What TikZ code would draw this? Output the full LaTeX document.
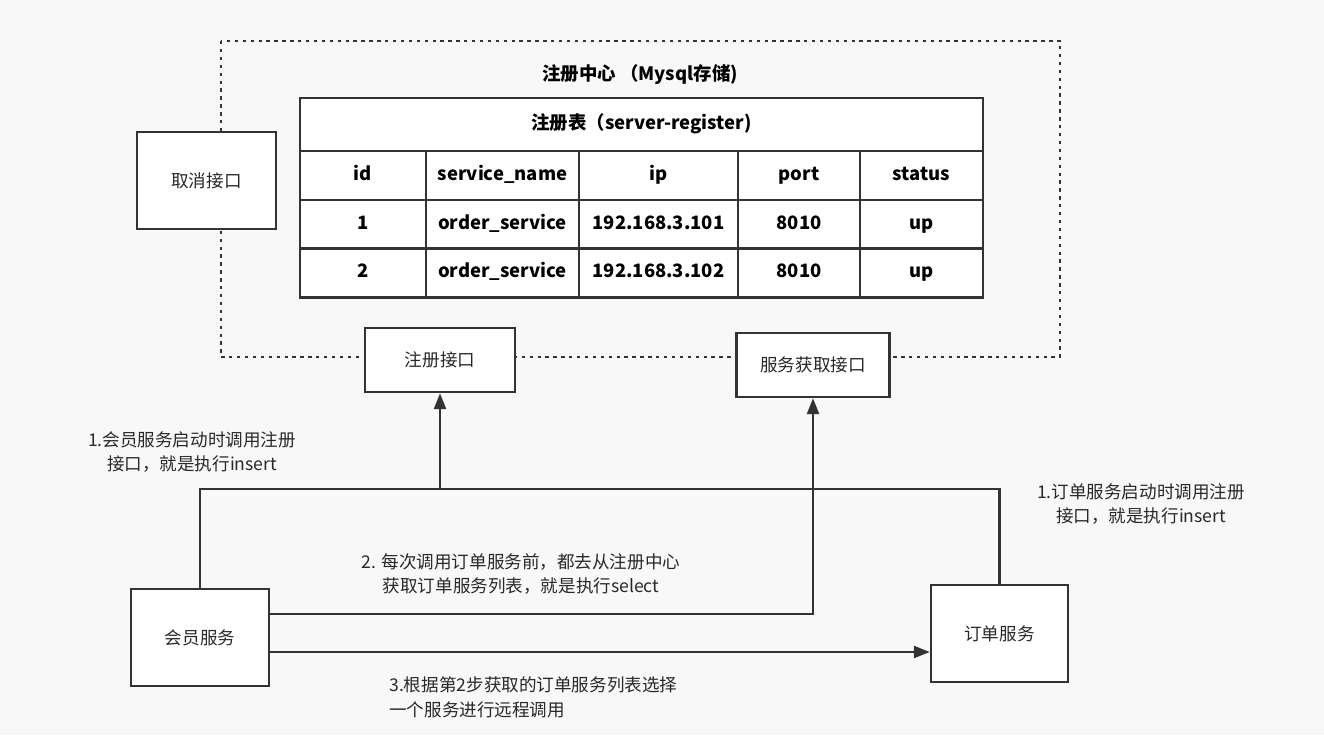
\documentclass[tikz,border=0pt]{standalone}
\usepackage{fontspec}
\setmainfont{Noto Sans CJK SC}
\usepackage{tikz}
\usetikzlibrary{arrows.meta}
\definecolor{bgpaper}{RGB}{248, 248, 248}
\definecolor{inkline}{RGB}{51, 51, 51}
\definecolor{inktext}{RGB}{40, 40, 40}

\begin{document}
\begin{tikzpicture}[x=0.02cm, y=-0.02cm,
  font=\fontsize{10}{14.2}\selectfont,
  box/.style={draw=inkline, line width=1.4pt, fill=white, text=inktext, align=center, inner sep=0pt},
  cell/.style={draw=inkline, line width=1.4pt, fill=white, text=black, font=\fontsize{10.5}{13}\selectfont\bfseries, minimum height=0.98cm, inner sep=0pt, text height=0.78em, text depth=0.22em},
  conn/.style={draw=inkline, line width=1.4pt},
  note/.style={text=inktext, align=center, inner sep=0pt}]
% paper and frame
\fill[bgpaper] (0,0) rectangle (1324,735);
\useasboundingbox (0,0) rectangle (1324,735);

% registry centre (dotted frame)
\draw[inkline, line width=1.5pt, dash pattern=on 1.9pt off 2.6pt] (221,41) rectangle (1060,357);
\node[text=black, font=\fontsize{10.5}{13}\selectfont\bfseries] (center) at (640,75) {注册中心 （Mysql存储)};

% register table
\node[cell, minimum width=13.66cm, minimum height=1.06cm] (tabletitle) at (641.5,124.5) {注册表（server-register)};
\foreach \cx/\cw/\ha/\ra/\rb [count=\c] in {
    363/2.52/id/1/2,
    502.5/3.06/service\_name/order\_service/order\_service,
    658.5/3.18/ip/192.168.3.101/192.168.3.102,
    799/2.44/port/8010/8010,
    921.5/2.46/status/up/up}{
  \node[cell, minimum width=\cw cm] (h\c) at (\cx,175.5) {\ha};
  \node[cell, minimum width=\cw cm] (a\c) at (\cx,224.5) {\ra};
  \node[cell, minimum width=\cw cm] (b\c) at (\cx,273) {\rb};
}

% interfaces
\node[box, minimum width=2.78cm, minimum height=1.94cm] (cancel) at (206.5,180.5) {取消接口};
\node[box, minimum width=3.0cm, minimum height=1.28cm] (reg) at (440,360) {注册接口};
\node[box, minimum width=3.06cm, minimum height=1.28cm] (fetch) at (813,365) {服务获取接口};

% services
\node[box, minimum width=2.76cm, minimum height=1.94cm] (member) at (200,637.5) {会员服务};
\node[box, minimum width=2.74cm, minimum height=1.94cm] (order) at (999.5,633.5) {订单服务};

% connectors
\coordinate (join) at (440,489);
\draw[conn] (member.north) |- (join);
\draw[conn] (order.north) |- (join);
\draw[conn, -{Triangle[length=0.32cm, width=0.24cm]}] (join) -- (reg.south);
\draw[conn, -{Triangle[length=0.32cm, width=0.24cm]}] ([yshift=0.47cm]member.east) -| (fetch.south);
\draw[conn, -{Triangle[length=0.32cm, width=0.24cm]}] ([yshift=-0.29cm]member.east) coordinate (call) -- (call -| order.west);

% step notes
\node[note] (step1a) at (192,452) {1.会员服务启动时调用注册\\接口，就是执行insert};
\node[note] (step1b) at (1141,504) {1.订单服务启动时调用注册\\接口，就是执行insert};
\node[note] (step2) at (521,574) {2. 每次调用订单服务前，都去从注册中心\\获取订单服务列表，就是执行select};
\node[note, align=left, anchor=west] (step3) at (389,697) {3.根据第2步获取的订单服务列表选择\\一个服务进行远程调用};
\end{tikzpicture}
\end{document}
